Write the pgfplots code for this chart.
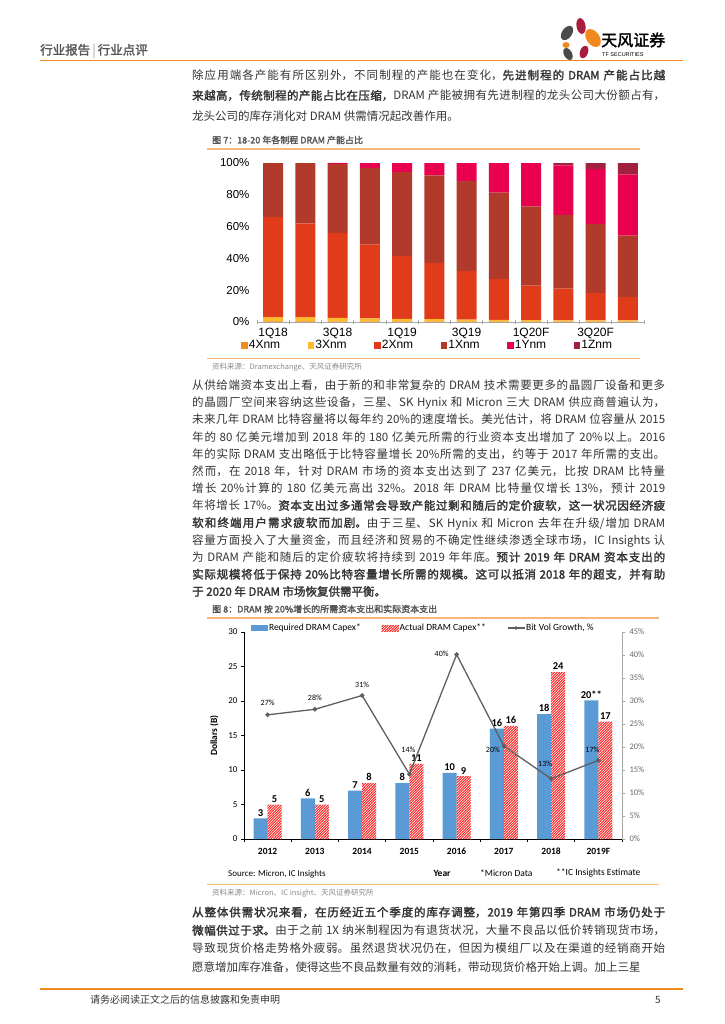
\documentclass[border=0pt]{standalone}
\usepackage{pgfplots}
\pgfplotsset{compat=1.18}
\usepackage{fontspec}
\usetikzlibrary{patterns}
\setmainfont{Noto Sans CJK SC}[AutoFakeBold=2]
\newfontfamily\arial{Liberation Sans}
\newfontfamily\calibri{Carlito}
\XeTeXlinebreaklocale "zh"
\XeTeXlinebreakskip=0pt plus 1pt
\definecolor{txt}{HTML}{333333}
\definecolor{hdr}{HTML}{555555}
\definecolor{orng}{HTML}{F08A1E}
\definecolor{lorng}{HTML}{F7B77A}
\definecolor{srcg}{HTML}{888888}
\definecolor{c4x}{HTML}{F28A1E}
\definecolor{c3x}{HTML}{FDBB2F}
\definecolor{c2x}{HTML}{E03C1C}
\definecolor{c1x}{HTML}{B23A2A}
\definecolor{c1y}{HTML}{E9004E}
\definecolor{c1z}{HTML}{A3203E}
\definecolor{capblue}{HTML}{5B9BD5}
\definecolor{capred}{HTML}{FF2020}
\definecolor{lgrey}{HTML}{5F5F5F}
\definecolor{logogrey}{HTML}{4A4A4A}
\definecolor{logored}{HTML}{A81E3C}

\pgfdeclarepatternformonly{densehatch}{\pgfqpoint{-1pt}{-1pt}}{\pgfqpoint{3.6pt}{3.6pt}}{\pgfqpoint{2.6pt}{2.6pt}}{%
  \pgfsetlinewidth{0.9pt}%
  \pgfpathmoveto{\pgfqpoint{-0.2pt}{-0.2pt}}%
  \pgfpathlineto{\pgfqpoint{2.8pt}{2.8pt}}%
  \pgfusepath{stroke}}

\pgfplotstableread{
x x4 x3 x2 x1 y1 z1
0 0.4 2.6 63.0 34.0 0.0 0.0
1 0.4 2.6 59.0 38.0 0.0 0.0
2 0.3 2.3 53.4 43.5 0.5 0.0
3 0.3 2.0 46.3 48.4 3.0 0.0
4 0.2 1.8 39.5 52.8 5.7 0.0
5 0.2 1.6 35.2 55.2 7.8 0.0
6 0.2 1.3 30.5 56.7 11.3 0.0
7 0.2 1.1 25.7 54.3 18.7 0.0
8 0.2 1.0 21.6 49.9 27.3 0.0
9 0.2 0.9 19.9 46.3 31.2 1.5
10 0.2 0.8 17.2 43.4 34.6 3.8
11 0.2 0.8 14.7 38.6 38.4 7.3
}\nodetable

\pgfplotstableread{
x req reqlab act actlab
0 3.0 3 5.0 5
1 5.9 6 5.0 5
2 7.0 7 8.1 8
3 8.1 8 10.9 11
4 9.6 10 9.1 9
5 16.0 16 16.4 16
6 18.1 18 24.2 24
7 20.1 20** 17.0 17
}\captable

\pgfplotstableread{
x g lab dx dy
0 27.0 27\% 0 12
1 28.2 28\% 0 11
2 31.2 31\% 0 11
3 14.1 14\% -1 24
4 40.1 40\% -15 1
5 20.2 20\% -11 -4
6 13.1 13\% -6 15
7 17.1 17\% -6 11
}\growtable

\begin{document}
\begin{tikzpicture}
\path (0pt,0pt) rectangle (724pt,-1024pt);

% ---------- header ----------
\node[anchor=west,inner sep=0pt,text=hdr,font=\fontsize{12.5}{13}\selectfont\bfseries] at (40pt,-51pt) {行业报告\,{\color{lightgray}|}\,行业点评};
\draw[orng,line width=1.3pt] (40pt,-60.5pt) -- (683pt,-60.5pt);
% logo
\fill[logogrey,rotate around={-35:(567pt,-33pt)}] (567pt,-33pt) ellipse (5pt and 8pt);
\fill[logored,rotate around={10:(581pt,-26pt)}] (581pt,-26pt) ellipse (4.5pt and 8pt);
\fill[orng,rotate around={35:(593pt,-38pt)}] (593pt,-38pt) ellipse (6.5pt and 10pt);
\fill[orng] (566pt,-45pt) ellipse (3.5pt and 3pt);
\fill[logogrey,rotate around={30:(568pt,-54pt)}] (568pt,-54pt) ellipse (4pt and 6.5pt);
\fill[logored,rotate around={-20:(584pt,-52pt)}] (584pt,-52pt) ellipse (4pt and 6.5pt);
\node[anchor=west,inner sep=0pt,text=black,font=\fontsize{16}{17}\selectfont\bfseries] at (601pt,-40pt) {天风证券};
\node[anchor=west,inner sep=0pt,text=black,font=\arial\fontsize{5.5}{6}\selectfont] at (602pt,-55pt) {TF SECURITIES};

% ---------- paragraph 1 ----------
\node[anchor=north west,inner sep=0pt,text width=473pt,align=justify,text=txt,font=\fontsize{11.5}{20.3}\selectfont] at (192pt,-69.5pt)
{除应用端各产能有所区别外，不同制程的产能也在变化，\textbf{先进制程的 DRAM 产能占比越}\linebreak
\textbf{来越高，传统制程的产能占比在压缩，}DRAM 产能被拥有先进制程的龙头公司大份额占有，\linebreak
龙头公司的库存消化对 DRAM 供需情况起改善作用。};

% ---------- figure 7 ----------
\node[anchor=west,inner sep=0pt,text=hdr,font=\fontsize{9}{10}\selectfont\bfseries] at (212pt,-140pt) {图 7：18-20 年各制程 DRAM 产能占比};
\draw[lorng,line width=1.2pt] (207pt,-149pt) -- (640pt,-149pt);
\draw[lorng,line width=0.6pt] (207pt,-358pt) -- (640pt,-358pt);
\node[anchor=west,inner sep=0pt,text=srcg,font=\fontsize{7.5}{8}\selectfont] at (212pt,-367pt) {资料来源：Dramexchange、天风证券研究所};

\begin{axis}[
  at={(257pt,-322pt)}, anchor=south west,
  scale only axis, width=387pt, height=159pt,
  ybar stacked, bar width=20pt,
  xmin=-0.5, xmax=11.5, ymin=0, ymax=100,
  axis lines*=left,
  y axis line style={draw=none},
  x axis line style={draw=gray!70, line width=0.6pt},
  xtick={0,2,...,10},
  xticklabels={1Q18,3Q18,1Q19,3Q19,1Q20F,3Q20F},
  minor xtick={-0.5,0.5,...,11.5},
  major tick length=0pt,
  minor tick length=4pt,
  every minor tick/.style={draw=gray!70, line width=0.6pt, yshift=-2pt},
  ytick={0,20,...,100},
  yticklabel={\pgfmathprintnumber{\tick}\%},
  /pgf/number format/assume math mode=true,
  tick label style={font=\arial\fontsize{11.5}{12}\selectfont, text=black},
  xticklabel style={font=\arial\fontsize{12}{12}\selectfont, yshift=-3pt},
  yticklabel style={xshift=-4pt},
  legend columns=6,
  legend style={draw=none, fill=none, at={(-0.041,-0.148)}, anchor=west,
    font=\arial\fontsize{12}{12}\selectfont, inner sep=0pt, column sep=0pt,
    nodes={inner sep=1pt}},
  legend image code/.code={\path[#1] (0pt,-3.2pt) rectangle (6.5pt,3.2pt);},
  clip=false
]
\addplot[fill=c4x, draw=none] table[x=x,y=x4] {\nodetable};
\addlegendentry{\makebox[58pt][l]{4Xnm}}
\addplot[fill=c3x, draw=none] table[x=x,y=x3] {\nodetable};
\addlegendentry{\makebox[58pt][l]{3Xnm}}
\addplot[fill=c2x, draw=none] table[x=x,y=x2] {\nodetable};
\addlegendentry{\makebox[58pt][l]{2Xnm}}
\addplot[fill=c1x, draw=none] table[x=x,y=x1] {\nodetable};
\addlegendentry{\makebox[58pt][l]{1Xnm}}
\addplot[fill=c1y, draw=none] table[x=x,y=y1] {\nodetable};
\addlegendentry{\makebox[58pt][l]{1Ynm}}
\addplot[fill=c1z, draw=none] table[x=x,y=z1] {\nodetable};
\addlegendentry{1Znm}
\end{axis}

% ---------- paragraph 2 ----------
\node[anchor=north west,inner sep=0pt,text width=473pt,align=justify,text=txt,font=\fontsize{11.5}{17.2}\selectfont] at (192pt,-379.5pt)
{从供给端资本支出上看，由于新的和非常复杂的 DRAM 技术需要更多的晶圆厂设备和更多\linebreak
的晶圆厂空间来容纳这些设备，三星、SK Hynix 和 Micron 三大 DRAM 供应商普遍认为，\linebreak
未来几年 DRAM 比特容量将以每年约 20\%的速度增长。美光估计，将 DRAM 位容量从 2015\linebreak
年的 80 亿美元增加到 2018 年的 180 亿美元所需的行业资本支出增加了 20\%以上。2016\linebreak
年的实际 DRAM 支出略低于比特容量增长 20\%所需的支出，约等于 2017 年所需的支出。\linebreak
然而，在 2018 年，针对 DRAM 市场的资本支出达到了 237 亿美元，比按 DRAM 比特量\linebreak
增长 20\%计算的 180 亿美元高出 32\%。2018 年 DRAM 比特量仅增长 13\%，预计 2019\linebreak
年将增长 17\%。\textbf{资本支出过多通常会导致产能过剩和随后的定价疲软，这一状况因经济疲}\linebreak
\textbf{软和终端用户需求疲软而加剧。}由于三星、SK Hynix 和 Micron 去年在升级/增加 DRAM\linebreak
容量方面投入了大量资金，而且经济和贸易的不确定性继续渗透全球市场，IC Insights 认\linebreak
为 DRAM 产能和随后的定价疲软将持续到 2019 年年底。\textbf{预计 2019 年 DRAM 资本支出的}\linebreak
\textbf{实际规模将低于保持 20\%比特容量增长所需的规模。这可以抵消 2018 年的超支，并有助}\linebreak
\textbf{于 2020 年 DRAM 市场恢复供需平衡。}};

% ---------- figure 8 ----------
\node[anchor=west,inner sep=0pt,text=hdr,font=\fontsize{9}{10}\selectfont\bfseries] at (212pt,-609pt) {图 8：DRAM 按 20\%增长的所需资本支出和实际资本支出};
\draw[lorng,line width=1.2pt] (207pt,-618pt) -- (659pt,-618pt);
\draw[lorng,line width=0.6pt] (207pt,-884pt) -- (659pt,-884pt);
\node[anchor=west,inner sep=0pt,text=srcg,font=\fontsize{7.5}{8}\selectfont] at (212pt,-893pt) {资料来源：Micron、IC insight、天风证券研究所};

\begin{axis}[
  at={(244pt,-839pt)}, anchor=south west,
  scale only axis, width=378pt, height=207pt,
  xmin=-0.5, xmax=7.5, ymin=0, ymax=30,
  axis x line*=bottom, axis y line*=left,
  axis line style={line width=0.8pt, black},
  ybar=0pt, bar width=14pt,
  xtick={0,...,7},
  xticklabels={2012,2013,2014,2015,2016,2017,2018,2019F},
  minor xtick={-0.5,0.5,...,7.5},
  x tick style={draw=none},
  minor x tick style={draw=black, line width=0.8pt},
  minor tick length=3pt,
  ytick={0,5,...,30},
  y tick style={black, line width=0.8pt},
  major tick length=3pt,
  tick align=outside,
  /pgf/number format/assume math mode=true,
  tick label style={font=\calibri\fontsize{9}{10}\selectfont},
  xticklabel style={font=\calibri\bfseries\fontsize{9.5}{10}\selectfont, text height=7pt, text depth=1pt, yshift=-2pt},
  ylabel={Dollars (B)},
  ylabel style={font=\calibri\bfseries\fontsize{9.5}{10}\selectfont, at={(axis description cs:-0.058,0.5)}},
  xlabel={Year},
  xlabel style={font=\calibri\bfseries\fontsize{9.5}{10}\selectfont, at={(axis description cs:0.524,-0.135)}},
  legend columns=3,
  legend style={draw=none, fill=none, at={(0.018,1.045)}, anchor=north west,
    font=\calibri\fontsize{9.5}{10}\selectfont, inner sep=0pt,
    /tikz/every even column/.append style={column sep=20pt},
    nodes={inner sep=1pt}},
  legend image code/.code={\path[#1] (0pt,-3pt) rectangle (17pt,3pt);},
  point meta=explicit symbolic,
  nodes near coords,
  every node near coord/.append style={font=\calibri\bfseries\fontsize{10.5}{11}\selectfont, text=black, anchor=south, inner sep=2pt},
  clip=false
]
\addplot[fill=capblue, draw=none] table[x=x,y=req,meta=reqlab] {\captable};
\addlegendentry{Required DRAM Capex*}
\addplot[pattern=densehatch, pattern color=capred, draw=none] table[x=x,y=act,meta=actlab] {\captable};
\addlegendentry{Actual DRAM Capex**}
\addlegendimage{legend image code/.code={\draw[lgrey,line width=1.3pt] (0pt,0pt) -- (17pt,0pt); \fill[lgrey] (8.5pt,0pt) circle (1.6pt);}}
\addlegendentry{Bit Vol Growth, \%}
\end{axis}

\begin{axis}[
  at={(244pt,-839pt)}, anchor=south west,
  scale only axis, width=378pt, height=207pt,
  xmin=-0.5, xmax=7.5, ymin=0, ymax=45,
  axis x line=none, axis y line*=right,
  axis line style={gray!70, line width=0.6pt},
  ytick={0,5,...,45},
  yticklabel={\pgfmathprintnumber{\tick}\%},
  y tick style={gray!70},
  major tick length=3pt, tick align=outside,
  /pgf/number format/assume math mode=true,
  yticklabel style={font=\calibri\fontsize{8.5}{9}\selectfont, text=gray!80!black, xshift=1pt},
  point meta=explicit symbolic,
  nodes near coords,
  visualization depends on={\thisrow{dx} \as \dx},
  visualization depends on={\thisrow{dy} \as \dy},
  every node near coord/.append style={font=\calibri\fontsize{8}{9}\selectfont, text=black, anchor=center, xshift=\dx pt, yshift=\dy pt},
  clip=false
]
\addplot[color=lgrey, line width=1.3pt, mark=*, mark size=1.6pt, mark options={fill=lgrey}] table[x=x,y=g,meta=lab] {\growtable};
\end{axis}

\node[anchor=west,inner sep=0pt,font=\calibri\fontsize{9}{10}\selectfont] at (228pt,-874pt) {Source: Micron, IC Insights};
\node[anchor=west,inner sep=0pt,font=\calibri\fontsize{9.5}{10}\selectfont] at (480pt,-873pt) {*Micron Data};
\node[anchor=west,inner sep=0pt,font=\calibri\fontsize{9.5}{10}\selectfont] at (556pt,-873pt) {**IC Insights Estimate};

% ---------- paragraph 3 ----------
\node[anchor=north west,inner sep=0pt,text width=473pt,align=justify,text=txt,font=\fontsize{11.5}{18.2}\selectfont] at (192pt,-906.5pt)
{\textbf{从整体供需状况来看，在历经近五个季度的库存调整，2019 年第四季 DRAM 市场仍处于}\linebreak
\textbf{微幅供过于求。}由于之前 1X 纳米制程因为有退货状况，大量不良品以低价转销现货市场，\linebreak
导致现货价格走势格外疲弱。虽然退货状况仍在，但因为模组厂以及在渠道的经销商开始\linebreak
愿意增加库存准备，使得这些不良品数量有效的消耗，带动现货价格开始上调。加上三星};

% ---------- footer ----------
\draw[orng,line width=1.3pt] (40pt,-989pt) -- (683pt,-989pt);
\node[anchor=west,inner sep=0pt,text=txt,font=\fontsize{10}{11}\selectfont] at (90pt,-1000pt) {请务必阅读正文之后的信息披露和免责申明};
\node[anchor=west,inner sep=0pt,text=txt,font=\fontsize{10}{11}\selectfont] at (655pt,-1000pt) {5};
\end{tikzpicture}
\end{document}
